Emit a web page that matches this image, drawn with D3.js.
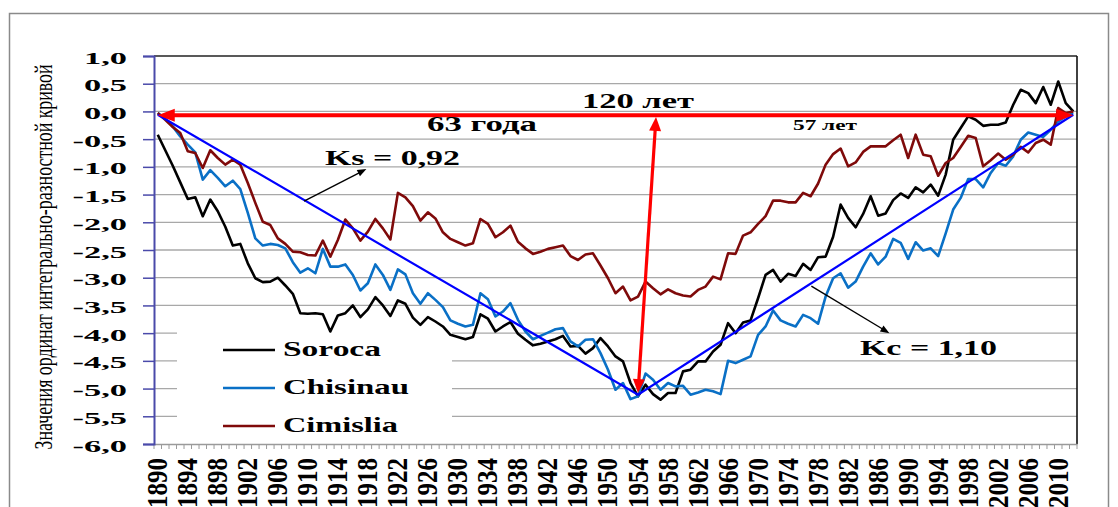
<!DOCTYPE html>
<html><head><meta charset="utf-8">
<script src="https://cdn.jsdelivr.net/npm/d3@7"></script>
<style>
body{margin:0;background:#fff}
svg{display:block}
text{font-family:"Liberation Serif","Times New Roman",serif}
</style>
</head><body>
<svg id="chart" width="1118" height="507"></svg>
<script>
// ---------- data ----------
const years = d3.range(1890, 2013);
const soroca = [-0.42,-0.70,-0.98,-1.28,-1.58,-1.55,-1.89,-1.59,-1.80,-2.08,
-2.42,-2.39,-2.74,-3.01,-3.08,-3.07,-3.00,-3.14,-3.29,-3.64,
-3.65,-3.64,-3.66,-3.97,-3.68,-3.64,-3.50,-3.71,-3.57,-3.35,
-3.50,-3.69,-3.41,-3.47,-3.72,-3.85,-3.71,-3.79,-3.88,-4.03,
-4.07,-4.11,-4.07,-3.66,-3.74,-3.97,-3.88,-3.80,-4.01,-4.12,
-4.22,-4.19,-4.15,-4.11,-4.05,-4.24,-4.23,-4.37,-4.27,-4.09,
-4.24,-4.42,-4.51,-4.90,-5.14,-4.93,-5.10,-5.20,-5.08,-5.08,
-4.69,-4.66,-4.51,-4.51,-4.33,-4.21,-3.82,-4.00,-3.81,-3.77,
-3.37,-2.95,-2.86,-3.07,-2.93,-2.97,-2.75,-2.86,-2.63,-2.62,
-2.26,-1.68,-1.92,-2.09,-1.85,-1.53,-1.88,-1.84,-1.60,-1.48,
-1.56,-1.37,-1.46,-1.32,-1.52,-1.14,-0.51,-0.30,-0.09,-0.15,
-0.26,-0.24,-0.24,-0.20,0.12,0.39,0.33,0.15,0.44,0.12,
0.54,0.15,0.00];
const chisinau = [-0.03,-0.13,-0.27,-0.45,-0.60,-0.74,-1.23,-1.06,-1.20,-1.35,
-1.25,-1.40,-1.83,-2.29,-2.42,-2.39,-2.41,-2.47,-2.72,-2.91,
-2.83,-2.92,-2.48,-2.80,-2.80,-2.76,-2.95,-3.23,-3.10,-2.76,
-2.95,-3.22,-2.85,-2.94,-3.28,-3.47,-3.28,-3.40,-3.53,-3.77,
-3.83,-3.88,-3.85,-3.28,-3.39,-3.70,-3.61,-3.46,-3.76,-3.97,
-4.11,-4.05,-3.99,-3.93,-3.91,-4.15,-4.24,-4.12,-4.11,-4.36,
-4.66,-5.02,-4.90,-5.19,-5.14,-4.73,-4.84,-5.02,-4.90,-4.96,
-4.95,-5.11,-5.07,-5.02,-5.05,-5.10,-4.50,-4.54,-4.48,-4.42,
-4.03,-3.88,-3.59,-3.77,-3.83,-3.88,-3.67,-3.73,-3.83,-3.34,
-3.01,-2.92,-3.18,-3.07,-2.80,-2.56,-2.76,-2.62,-2.30,-2.37,
-2.66,-2.36,-2.51,-2.47,-2.61,-2.20,-1.77,-1.56,-1.22,-1.22,
-1.37,-1.11,-0.93,-0.98,-0.81,-0.51,-0.38,-0.42,-0.46,-0.33,
-0.18,-0.09,-0.03];
const cimislia = [-0.03,-0.15,-0.28,-0.39,-0.72,-0.75,-1.02,-0.70,-0.84,-0.96,
-0.87,-0.96,-1.29,-1.65,-1.99,-2.05,-2.29,-2.39,-2.53,-2.54,
-2.59,-2.60,-2.33,-2.62,-2.32,-1.95,-2.11,-2.33,-2.17,-1.94,
-2.11,-2.31,-1.47,-1.55,-1.71,-1.97,-1.82,-1.93,-2.18,-2.30,
-2.36,-2.42,-2.38,-1.94,-2.03,-2.27,-2.18,-2.06,-2.35,-2.47,
-2.57,-2.53,-2.48,-2.45,-2.42,-2.61,-2.68,-2.58,-2.56,-2.78,
-3.01,-3.28,-3.16,-3.41,-3.34,-3.07,-3.19,-3.30,-3.21,-3.28,
-3.32,-3.34,-3.22,-3.16,-2.98,-3.03,-2.56,-2.57,-2.24,-2.18,
-2.03,-1.89,-1.61,-1.61,-1.64,-1.64,-1.47,-1.53,-1.30,-0.96,
-0.77,-0.67,-0.99,-0.92,-0.73,-0.63,-0.63,-0.63,-0.52,-0.42,
-0.84,-0.42,-0.78,-0.81,-1.16,-0.93,-0.84,-0.64,-0.44,-0.48,
-0.99,-0.88,-0.76,-0.87,-0.78,-0.64,-0.74,-0.57,-0.51,-0.60,
0.06,-0.03,0.00];
const seriesNames = ["Soroca", "Chisinau", "Cimislia"];
const yTickValues = [1, 0.5, 0, -0.5, -1, -1.5, -2, -2.5, -3, -3.5, -4, -4.5, -5, -5.5, -6];
const xLabelYears = d3.range(1890, 2011, 4);
// trend lines (year, value)
const trendYears = [1890, 1954, 2012];
const trendValues = [-0.06, -5.11, -0.06];
// red arrows (year, value)
const spanArrowYears = [1890, 2012];
const spanArrowValues = [-0.07, -0.07];
const minArrowYears = [1954, 1956.4];
const minArrowValues = [-5.08, -0.10];
// coefficient pointer arrows: [tailYear, tailValue, headYear, headValue]
const ksArrow = [1909.5, -1.62, 1917.8, -1.04];
const kcArrow = [1977.1, -3.15, 1987.5, -4.00];
const yTitle = "Значения ординат интегрально-разностной кривой";

// ---------- styles ----------
const colors = {Soroca: "#000000", Chisinau: "#0a70c6", Cimislia: "#7f0a0a"};
const seriesData = {Soroca: soroca, Chisinau: chisinau, Cimislia: cimislia};

const svg = d3.select("#chart");
const L = 154, R = 1077, T = 56, B = 444;
const x = d3.scaleBand().domain(years).range([L, R]).padding(0);
const bw = x.bandwidth();
const cx = yr => x(yr) + bw / 2;
const xl = d3.scaleLinear().domain([1890, 2012]).range([cx(1890), cx(2012)]);
const y = d3.scaleLinear().domain([-6, 1]).range([B, T]);

// outer frame
svg.append("rect").attr("x", 9.5).attr("y", 13.5).attr("width", 1099).attr("height", 520)
  .attr("fill", "none").attr("stroke", "#8a8a8a").attr("stroke-width", 1.5);

// gridlines
svg.append("g").selectAll("line").data(yTickValues.filter(v => v > -6 && v < 1)).join("line")
  .attr("x1", L).attr("x2", R).attr("y1", d => y(d)).attr("y2", d => y(d))
  .attr("stroke", "#a8a8a8").attr("stroke-width", 1.3);
// top and right border
svg.append("line").attr("x1", L).attr("x2", R).attr("y1", y(1)).attr("y2", y(1))
  .attr("stroke", "#222").attr("stroke-width", 1.3);
svg.append("line").attr("x1", R).attr("x2", R).attr("y1", T).attr("y2", B)
  .attr("stroke", "#111").attr("stroke-width", 1.6);

// bottom axis (ticks at category boundaries)
const gx = svg.append("g").attr("transform", `translate(0,${B})`)
  .call(d3.axisBottom(x).tickValues([]).tickSizeOuter(0));
gx.select(".domain").attr("stroke", "#9a9a9a").attr("stroke-width", 1.5);
gx.selectAll(".bt").data(years.concat([2013])).join("line").attr("class", "bt")
  .attr("x1", d => d === 2013 ? R : x(d)).attr("x2", d => d === 2013 ? R : x(d))
  .attr("y1", 0).attr("y2", 5).attr("stroke", "#9a9a9a").attr("stroke-width", 1);

// x labels
svg.append("g").selectAll("text").data(xLabelYears).join("text")
  .attr("transform", d => `translate(${cx(d) + 9.5},458) scale(1.15,1) rotate(-90)`)
  .attr("text-anchor", "end").attr("font-size", 25).attr("font-weight", "bold")
  .attr("fill", "#000").text(d => d);

// left axis
const gy = svg.append("g").attr("transform", `translate(${L},0)`)
  .call(d3.axisLeft(y).tickValues(yTickValues).tickSize(11).tickFormat(""));
gy.select(".domain").attr("stroke", "#4a4aaa").attr("stroke-width", 2);
gy.selectAll(".tick line").attr("stroke", "#4a4aaa").attr("stroke-width", 1.5);

// y labels
svg.append("g").selectAll("text").data(yTickValues).join("text")
  .attr("transform", d => `translate(127,${y(d) + 7.5}) scale(2.15,1)`)
  .attr("text-anchor", "end").attr("font-size", 16).attr("font-weight", "bold")
  .text(d => d.toFixed(1).replace(".", ","));

// y title (condensed along its reading direction)
svg.append("text").attr("transform", "translate(52,257) scale(1.5,1) rotate(-90)")
  .attr("text-anchor", "middle").attr("font-size", 17.5)
  .attr("textLength", 385).attr("lengthAdjust", "spacingAndGlyphs")
  .text(yTitle);

// legend box
svg.append("rect").attr("x", 177).attr("y", 331).attr("width", 275).attr("height", 110).attr("fill", "#fff");

// series
const line = d3.line().x((d, i) => cx(years[i])).y(d => y(d));
seriesNames.forEach(n => {
  svg.append("path").datum(seriesData[n]).attr("d", line)
    .attr("fill", "none").attr("stroke", colors[n]).attr("stroke-width", 2.6)
    .attr("stroke-linejoin", "round");
});

// legend entries
const legendLen = {Soroca: 98, Chisinau: 126, Cimislia: 115};
seriesNames.forEach((n, i) => {
  const ly = 350 + i * 38;
  svg.append("line").attr("x1", 223).attr("x2", 275).attr("y1", ly).attr("y2", ly)
    .attr("stroke", colors[n]).attr("stroke-width", 2.6);
  svg.append("text").attr("x", 283).attr("y", ly + 6).attr("font-size", 21).attr("font-weight", "bold")
    .attr("textLength", legendLen[n]).attr("lengthAdjust", "spacingAndGlyphs").text(n);
});

// trend lines
svg.append("path").datum(trendYears.map((t, i) => [xl(t), y(trendValues[i])]))
  .attr("d", d3.line()).attr("fill", "none").attr("stroke", "#0000ff").attr("stroke-width", 2.2);

// arrow helper
function arrowHead(x1, y1, x2, y2, len, hw, color) {
  const a = Math.atan2(y2 - y1, x2 - x1);
  const bx = x2 - len * Math.cos(a), by = y2 - len * Math.sin(a);
  const px = -Math.sin(a) * hw, py = Math.cos(a) * hw;
  svg.append("path").attr("d", `M${x2},${y2}L${bx + px},${by + py}L${bx - px},${by - py}Z`).attr("fill", color);
}
function arrow(x1, y1, x2, y2, w, color, len, hw, both) {
  const a = Math.atan2(y2 - y1, x2 - x1);
  const sx = both ? x1 + (len - 2) * Math.cos(a) : x1, sy = both ? y1 + (len - 2) * Math.sin(a) : y1;
  svg.append("line").attr("x1", sx).attr("y1", sy)
    .attr("x2", x2 - (len - 2) * Math.cos(a)).attr("y2", y2 - (len - 2) * Math.sin(a))
    .attr("stroke", color).attr("stroke-width", w);
  arrowHead(x1, y1, x2, y2, len, hw, color);
  if (both) arrowHead(x2, y2, x1, y1, len, hw, color);
}
// red span arrow
arrow(xl(spanArrowYears[0]), y(spanArrowValues[0]), xl(spanArrowYears[1]), y(spanArrowValues[1]), 4, "#ff0000", 17, 6.5, true);
// red vertical arrow
arrow(xl(minArrowYears[0]), y(minArrowValues[0]), xl(minArrowYears[1]), y(minArrowValues[1]), 3.2, "#ff0000", 14, 6, true);
// Ks / Kc pointers
arrow(xl(ksArrow[0]), y(ksArrow[1]), xl(ksArrow[2]), y(ksArrow[3]), 1.4, "#000", 9, 3.5, false);
arrow(xl(kcArrow[0]), y(kcArrow[1]), xl(kcArrow[2]), y(kcArrow[3]), 1.4, "#000", 9, 3.5, false);

// annotation texts
const notes = [
  {t: "120 лет", x: 582, y: 108, s: 22, len: 112},
  {t: "63 года", x: 427, y: 131, s: 20, len: 110},
  {t: "57 лет", x: 793, y: 130, s: 15, len: 64},
  {t: "Ks = 0,92", x: 325, y: 165, s: 20, len: 135},
  {t: "Kc = 1,10", x: 860, y: 355, s: 21, len: 137}
];
svg.append("g").selectAll("text").data(notes).join("text")
  .attr("x", d => d.x).attr("y", d => d.y).attr("font-size", d => d.s).attr("font-weight", "bold")
  .attr("textLength", d => d.len).attr("lengthAdjust", "spacingAndGlyphs").text(d => d.t);
</script>
</body></html>
